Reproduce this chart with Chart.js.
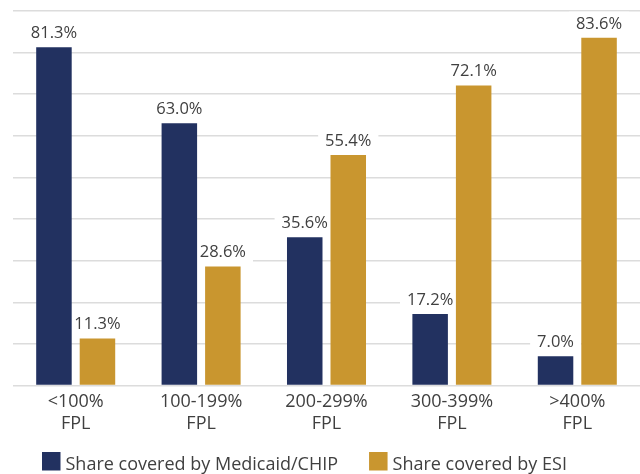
<!DOCTYPE html>
<html>
<head>
<meta charset="utf-8">
<script src="https://cdn.jsdelivr.net/npm/chart.js@4"></script>
<style>
  html, body { margin: 0; padding: 0; background: #ffffff; overflow: hidden; }
  #wrap { position: relative; width: 640px; height: 474px; }
</style>
</head>
<body>
<div id="wrap"><canvas id="c"></canvas></div>
<script>
const categories = [["<100%", "FPL"], ["100-199%", "FPL"], ["200-299%", "FPL"], ["300-399%", "FPL"], [">400%", "FPL"]];
const seriesNames = ["Share covered by Medicaid/CHIP", "Share covered by ESI"];
const medicaidValues = [81.3, 63.0, 35.6, 17.2, 7.0];
const esiValues = [11.3, 28.6, 55.4, 72.1, 83.6];
const seriesColors = ["#223160", "#c9962f"];

const FONT = "'Open Sans', 'Noto Sans', sans-serif";
const TEXT = "#404040";
const LABEL_FONT = "16.5px " + FONT;

function labelText(v) { return v.toFixed(1) + "%"; }

const labelPlugin = {
  id: "valueLabels",
  beforeDatasetsDraw(chart) {
    const ctx = chart.ctx;
    ctx.save();
    ctx.font = LABEL_FONT;
    ctx.fillStyle = "#ffffff";
    chart.data.datasets.forEach((ds, di) => {
      chart.getDatasetMeta(di).data.forEach((bar, i) => {
        const w = ctx.measureText(labelText(ds.data[i])).width;
        const base = bar.y - 9;
        ctx.fillRect(bar.x - w / 2 - 7, base - 17, w + 14, bar.y - (base - 17));
      });
    });
    ctx.restore();
  },
  afterDatasetsDraw(chart) {
    const ctx = chart.ctx;
    ctx.save();
    ctx.font = LABEL_FONT;
    ctx.textAlign = "center";
    ctx.textBaseline = "alphabetic";
    ctx.fillStyle = TEXT;
    chart.data.datasets.forEach((ds, di) => {
      chart.getDatasetMeta(di).data.forEach((bar, i) => {
        ctx.fillText(labelText(ds.data[i]), bar.x, bar.y - 9);
      });
    });
    ctx.restore();
  }
};

const legendPlugin = {
  id: "bottomLegend",
  afterDraw(chart) {
    const ctx = chart.ctx;
    ctx.save();
    ctx.font = "18px " + FONT;
    ctx.textBaseline = "alphabetic";
    ctx.textAlign = "left";
    let x = 42;
    const boxTop = 452, box = 18.5;
    chart.data.datasets.forEach((ds) => {
      ctx.fillStyle = ds.backgroundColor;
      ctx.fillRect(x, boxTop, box, box);
      x += box + 5;
      ctx.fillStyle = TEXT;
      ctx.fillText(ds.label, x, 470);
      x += ctx.measureText(ds.label).width + 31;
    });
    ctx.restore();
  }
};

new Chart(document.getElementById("c"), {
  type: "bar",
  data: {
    labels: categories,
    datasets: [
      { label: seriesNames[0], data: medicaidValues, backgroundColor: seriesColors[0] },
      { label: seriesNames[1], data: esiValues, backgroundColor: seriesColors[1] }
    ]
  },
  options: {
    responsive: true,
    maintainAspectRatio: false,
    animation: false,
    events: [],
    layout: { padding: { left: 13, right: 0, top: 11, bottom: 33.3 } },
    datasets: { bar: { categoryPercentage: 0.694, barPercentage: 0.816 } },
    plugins: { legend: { display: false }, tooltip: { enabled: false } },
    scales: {
      x: {
        grid: { display: false, drawTicks: false },
        border: { display: false },
        ticks: {
          padding: 6,
          color: TEXT,
          font: { family: FONT, size: 18, lineHeight: 1.2 },
          maxRotation: 0,
          autoSkip: false
        }
      },
      y: {
        min: 0,
        max: 90,
        ticks: { display: false, stepSize: 10 },
        grid: { color: "#dcdcdc", lineWidth: 1.5, drawTicks: false },
        border: { display: false },
        afterFit(s) { s.width = 0; }
      }
    }
  },
  plugins: [labelPlugin, legendPlugin]
});
</script>
</body>
</html>
